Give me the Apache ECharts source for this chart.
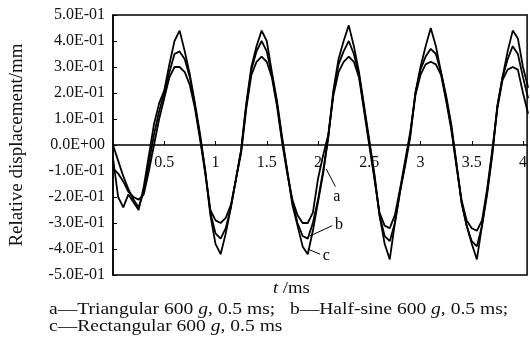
<!DOCTYPE html>
<html>
<head>
<meta charset="utf-8">
<script src="https://cdn.jsdelivr.net/npm/echarts@6/dist/echarts.min.js"></script>
<style>
  html, body { margin: 0; padding: 0; background: #fff; }
  #chart { width: 530px; height: 345px; }
</style>
</head>
<body>
<div id="chart"></div>
<script>
// time axis, ms (step 0.05)
const times = []
for (let i = 0; i <= 81; i++) times.push(+(i * 0.05).toFixed(2))

// a - triangular, b - half-sine, c - rectangular (relative displacement, mm)
const seriesA = [
  -0.09, -0.11, -0.14, -0.18, -0.20, -0.21, -0.19, -0.10, 0.00, 0.10,
  0.18, 0.26, 0.30, 0.30, 0.28, 0.23, 0.14, 0.02, -0.11, -0.25,
  -0.29, -0.30, -0.28, -0.23, -0.13, -0.03, 0.14, 0.27, 0.32, 0.34,
  0.32, 0.26, 0.15, 0.01, -0.11, -0.21, -0.27, -0.30, -0.30, -0.26,
  -0.13, -0.04, 0.04, 0.19, 0.28, 0.32, 0.34, 0.32, 0.26, 0.13,
  0.00, -0.13, -0.26, -0.31, -0.32, -0.27, -0.17, -0.06, 0.05, 0.19,
  0.27, 0.31, 0.32, 0.31, 0.27, 0.17, 0.06, -0.08, -0.21, -0.29,
  -0.32, -0.33, -0.29, -0.17, -0.02, 0.14, 0.25, 0.29, 0.30, 0.29,
  0.20, 0.12
]
const seriesB = [
  0.00, -0.06, -0.12, -0.17, -0.21, -0.24, -0.18, -0.07, 0.04, 0.13,
  0.20, 0.28, 0.35, 0.36, 0.33, 0.26, 0.15, 0.03, -0.10, -0.26,
  -0.34, -0.36, -0.32, -0.24, -0.13, -0.02, 0.15, 0.29, 0.36, 0.40,
  0.36, 0.27, 0.16, 0.02, -0.10, -0.22, -0.30, -0.35, -0.36, -0.30,
  -0.21, -0.10, 0.03, 0.20, 0.31, 0.36, 0.40, 0.35, 0.27, 0.14,
  0.01, -0.12, -0.27, -0.35, -0.37, -0.30, -0.18, -0.07, 0.04, 0.20,
  0.29, 0.34, 0.37, 0.35, 0.28, 0.18, 0.07, -0.07, -0.22, -0.31,
  -0.37, -0.39, -0.31, -0.18, -0.03, 0.15, 0.26, 0.33, 0.38, 0.35,
  0.26, 0.18
]
const seriesC = [
  -0.05, -0.20, -0.24, -0.19, -0.22, -0.25, -0.16, -0.04, 0.08, 0.16,
  0.21, 0.31, 0.40, 0.44, 0.36, 0.27, 0.16, 0.04, -0.10, -0.27,
  -0.38, -0.42, -0.34, -0.24, -0.13, -0.02, 0.16, 0.30, 0.38, 0.44,
  0.40, 0.28, 0.17, 0.03, -0.10, -0.23, -0.31, -0.39, -0.42, -0.33,
  -0.22, -0.11, 0.03, 0.21, 0.33, 0.40, 0.46, 0.38, 0.28, 0.15,
  0.02, -0.11, -0.27, -0.38, -0.44, -0.30, -0.18, -0.08, 0.03, 0.20,
  0.30, 0.38, 0.45, 0.38, 0.28, 0.19, 0.08, -0.07, -0.22, -0.31,
  -0.38, -0.44, -0.31, -0.19, -0.04, 0.15, 0.26, 0.36, 0.44, 0.41,
  0.30, 0.22
]

// curve tags: [label, from [t, v], to [t, v]]
const tags = [
  ['a', [2.08, -0.092], [2.17, -0.16]],
  ['b', [1.92, -0.35], [2.14, -0.31]],
  ['c', [1.90, -0.40], [2.02, -0.42]],
]

const FONT = '"Liberation Serif", "Times New Roman", serif'

function sci(v) {
  const [m, e] = v.toExponential(1).split('e')
  const n = parseInt(e, 10)
  return m + 'E' + (n < 0 ? '-' : '+') + String(Math.abs(n)).padStart(2, '0')
}

const chart = echarts.init(document.getElementById('chart'), null, { renderer: 'canvas' })

const line = (name, vals, withTags) => ({
  name,
  type: 'line',
  data: times.map((t, i) => [t, vals[i]]),
  showSymbol: false,
  lineStyle: { color: '#000', width: 1.8 },
  itemStyle: { color: '#000' },
  animation: false,
  markLine: withTags ? {
    silent: true,
    symbol: 'none',
    animation: false,
    lineStyle: { color: '#000', width: 1, type: 'solid' },
    label: {
      show: true,
      position: 'end',
      distance: 3,
      color: '#000',
      fontFamily: FONT,
      fontSize: 16,
    },
    data: tags.map(([lab, p0, p1]) => [
      { coord: p0 },
      { coord: p1, label: { formatter: lab } },
    ]),
  } : undefined,
})

const rich = size => ({ i: { fontStyle: 'italic', fontFamily: FONT, fontSize: size, fill: '#111' } })

chart.setOption({
  backgroundColor: '#fff',
  animation: false,
  grid: {
    left: 113,
    right: -1,
    top: 15,
    bottom: 70,
    show: true,
    borderColor: '#000',
    borderWidth: 1.5,
  },
  xAxis: {
    type: 'value',
    min: 0,
    max: 4.04,
    interval: 0.5,
    position: 'bottom',
    // axis sits on the zero line (half the 260px plot height up)
    offset: -130,
    axisLine: { onZero: false, lineStyle: { color: '#000', width: 1.5 } },
    axisTick: { inside: true, length: 4, lineStyle: { color: '#000' } },
    splitLine: { show: false },
    axisLabel: {
      showMinLabel: false,
      showMaxLabel: false,
      margin: 10,
      color: '#111',
      fontFamily: FONT,
      fontSize: 16,
    },
  },
  yAxis: {
    type: 'value',
    min: -0.5,
    max: 0.5,
    interval: 0.1,
    name: 'Relative displacement/mm',
    nameLocation: 'middle',
    nameRotate: 90,
    nameGap: 86,
    nameTextStyle: { color: '#111', fontFamily: FONT, fontSize: 19 },
    axisLine: { show: true, lineStyle: { color: '#000', width: 1.5 } },
    axisTick: { show: true, inside: true, length: 4, lineStyle: { color: '#000' } },
    splitLine: { show: false },
    axisLabel: {
      margin: 8,
      color: '#111',
      fontFamily: FONT,
      fontSize: 16,
      formatter: sci,
    },
  },
  graphic: [
    {
      type: 'text',
      left: 273,
      top: 280,
      scaleX: 1.1,
      style: { text: '{i|t} /ms', fill: '#111', font: '17px ' + FONT, rich: rich(17) },
    },
    {
      type: 'text',
      left: 49,
      top: 301,
      scaleX: 1.15,
      style: {
        text: 'a—Triangular 600 {i|g}, 0.5 ms;   b—Half-sine 600 {i|g}, 0.5 ms;',
        fill: '#111',
        font: '17px ' + FONT,
        rich: rich(17),
      },
    },
    {
      type: 'text',
      left: 49,
      top: 318,
      scaleX: 1.15,
      style: {
        text: 'c—Rectangular 600 {i|g}, 0.5 ms',
        fill: '#111',
        font: '17px ' + FONT,
        rich: rich(17),
      },
    },
  ],
  series: [
    line('a', seriesA, true),
    line('b', seriesB, false),
    line('c', seriesC, false),
  ],
})
</script>
</body>
</html>
